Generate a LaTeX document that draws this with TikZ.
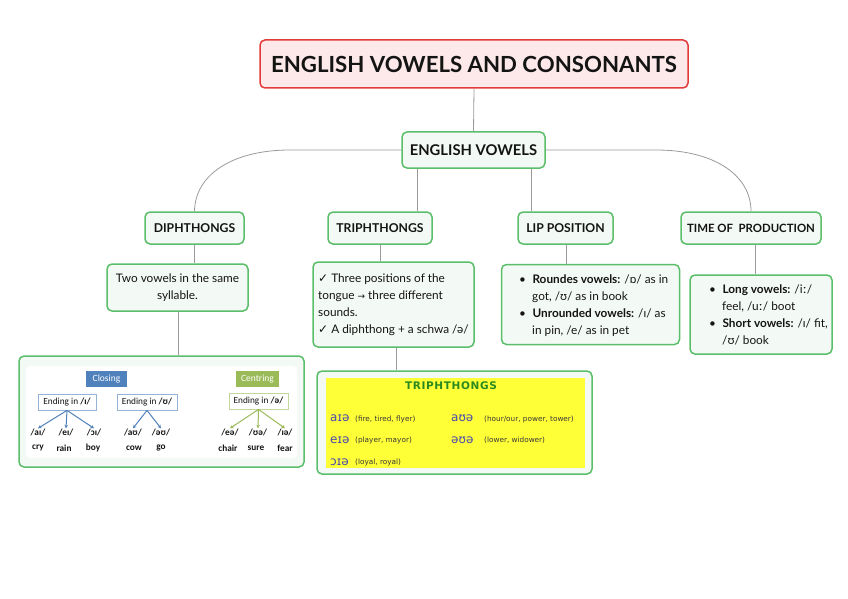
\documentclass[tikz,border=0pt]{standalone}
\usepackage{fontspec}
\setmainfont{Lato}
\newfontfamily\calf{Carlito}
\newfontfamily\dvs{DejaVu Sans}
\newfontfamily\dvsb[LetterSpace=6]{DejaVu Sans Bold}
\usetikzlibrary{arrows.meta}
\definecolor{gborder}{HTML}{5BBE6A}
\definecolor{gfill}{HTML}{F3F9F4}
\definecolor{rborder}{HTML}{E23B3B}
\definecolor{rfill}{HTML}{FDE9E9}
\definecolor{conn}{HTML}{9A9A9A}
\definecolor{cblue}{HTML}{4F81BD}
\definecolor{lblue}{HTML}{95B3D7}
\definecolor{cgreen}{HTML}{9BBB59}
\definecolor{lgreen}{HTML}{C3D69B}
\definecolor{ylw}{HTML}{FFFF38}
\definecolor{tgreen}{HTML}{2A8A1E}
\definecolor{ipablue}{HTML}{4848B0}
\definecolor{txt}{HTML}{141414}
\tikzset{
  gbox/.style={draw=gborder, fill=gfill, line width=1.5pt, rounded corners=5pt, inner sep=0pt, text=txt},
  lvl/.style={gbox, font=\bfseries\fontsize{12.2}{14}\selectfont},
  body/.style={inner sep=0pt, align=left, text=txt, font=\fontsize{11.8}{17}\selectfont},
  conline/.style={draw=conn, line width=0.8pt},
  smalllab/.style={inner sep=0pt, font=\calf\bfseries\fontsize{9.3}{10}\selectfont, text=txt},
  endbox/.style={draw, fill=white, line width=0.8pt, inner sep=0pt, minimum height=16pt, font=\calf\fontsize{9.3}{10}\selectfont, text=txt},
  barr/.style={draw=cblue, line width=1pt, -{Stealth[length=3.5pt,width=3.5pt]}},
  garr/.style={draw=cgreen, line width=1pt, -{Stealth[length=3.5pt,width=3.5pt]}},
  ipa/.style={inner sep=0pt, anchor=west, text=ipablue, font=\dvs\fontsize{12}{14}\selectfont},
  ipad/.style={inner sep=0pt, anchor=west, text=txt!85, font=\dvs\fontsize{7.3}{9}\selectfont}
}
\begin{document}
\begin{tikzpicture}[x=1pt,y=-1pt]
\useasboundingbox (0,0) rectangle (848,599);
% title
\node[draw=rborder, fill=rfill, line width=1.5pt, rounded corners=5pt, minimum width=428pt, minimum height=48pt, inner sep=0pt, font=\bfseries\fontsize{22.2}{26}\selectfont, text=txt] (title) at (474,64) {ENGLISH VOWELS AND CONSONANTS};
\node[gbox, minimum width=143pt, minimum height=36pt, font=\bfseries\fontsize{14.8}{17}\selectfont] (ev) at (473.5,150) {ENGLISH VOWELS};
\node[lvl, minimum width=99pt, minimum height=32pt] (dip) at (194.5,228) {DIPHTHONGS};
\node[lvl, minimum width=104pt, minimum height=32pt] (tri) at (380,228) {TRIPHTHONGS};
\node[lvl, minimum width=95pt, minimum height=32pt] (lip) at (565.5,228) {LIP POSITION};
\node[lvl, minimum width=140pt, minimum height=32pt, font=\bfseries\fontsize{11.4}{13}\selectfont] (tim) at (751,228) {TIME OF~~PRODUCTION};
% connectors top
\draw[conline] (title.south) -- (ev.north);
\coordinate (cx1) at (417,0);
\coordinate (cx2) at (531,0);
\draw[conline] (ev.west) -- (290,150) .. controls (232,150) and (195,175) .. (dip.north);
\draw[conline] (ev.east) -- (656,150) .. controls (714,150) and (751,175) .. (tim.north);
\draw[conline] (ev.south -| cx1) -- (tri.north -| cx1);
\draw[conline] (ev.south -| cx2) -- (lip.north -| cx2);
% level 3
\node[gbox, minimum width=141pt, minimum height=47pt, align=center, font=\fontsize{11.8}{17}\selectfont] (dd) at (177.5,287.5) {Two vowels in the same\\syllable.};
\node[gbox, minimum width=161pt, minimum height=85pt] (td) at (393.5,304.5) {};
\node[body, anchor=west] (tdt) at (318,305) {{\dvs\fontsize{12}{12}\selectfont ✓} Three positions of the\\tongue {\dvs\fontsize{9}{12}\selectfont →} three different\\sounds.\\{\dvs\fontsize{12}{12}\selectfont ✓} A diphthong + a schwa /ə/};
\node[gbox, minimum width=178pt, minimum height=80pt] (ld) at (590.5,304.5) {};
\node[body, anchor=west] (ldt) at (519,305.5) {•\hspace{6.5pt}\textbf{Roundes vowels:} /ɒ/ as in\\\hspace*{13pt}got, /ʊ/ as in book\\•\hspace{6.5pt}\textbf{Unrounded vowels:} /ɪ/ as\\\hspace*{13pt}in pin, /e/ as in pet};
\node[gbox, minimum width=142pt, minimum height=79pt] (tdd) at (761,314.5) {};
\node[body, anchor=west] (tddt) at (709,314.5) {•\hspace{6.5pt}\textbf{Long vowels:} /iː/\\\hspace*{13pt}feel, /uː/ boot\\•\hspace{6.5pt}\textbf{Short vowels:} /ɪ/ fit,\\\hspace*{13pt}/ʊ/ book};
\coordinate (cx3) at (380,0);
\coordinate (cx4) at (566,0);
\coordinate (cx5) at (755,0);
\draw[conline] (dip.south) -- (dd.north -| dip.south);
\draw[conline] (tri.south -| cx3) -- (td.north -| cx3);
\draw[conline] (lip.south -| cx4) -- (ld.north -| cx4);
\draw[conline] (tim.south -| cx5) -- (tdd.north -| cx5);
% diphthong image
\node[gbox, minimum width=285pt, minimum height=111pt] (dimg) at (161.5,411.5) {};
\node[fill=white, rounded corners=4pt, minimum width=271pt, minimum height=92pt, inner sep=0pt] (dwhite) at (161.5,412) {};
\coordinate (cx6) at (178,0);
\draw[conline] (dd.south -| cx6) -- (dimg.north -| cx6);
\node[fill=cblue, minimum width=41pt, minimum height=16pt, inner sep=0pt, text=white, font=\calf\fontsize{9.5}{10}\selectfont] (clo) at (106.5,379) {Closing};
\node[fill=cgreen, minimum width=43pt, minimum height=16pt, inner sep=0pt, text=white, font=\calf\fontsize{9.5}{10}\selectfont] (cen) at (257.5,379) {Centring};
\node[endbox, draw=lblue, minimum width=58pt] (e1) at (67,402) {Ending in \textbf{/ɪ/}};
\node[endbox, draw=lblue, minimum width=60pt] (e2) at (147,402) {Ending in \textbf{/ʊ/}};
\node[endbox, draw=lgreen, minimum width=59pt] (e3) at (258.5,401) {Ending in \textbf{/ə/}};
\node[smalllab] (a1) at (38,432) {/aɪ/};
\node[smalllab] (a2) at (66,432) {/eɪ/};
\node[smalllab] (a3) at (94,432) {/ɔɪ/};
\node[smalllab] (a4) at (133,432) {/aʊ/};
\node[smalllab] (a5) at (161,432) {/əʊ/};
\node[smalllab] (a6) at (230,432) {/eə/};
\node[smalllab] (a7) at (258,432) {/ʊə/};
\node[smalllab] (a8) at (285,432) {/ɪə/};
\node[smalllab] (w1) at (38,448) {cry};
\node[smalllab] (w2) at (64,448) {rain};
\node[smalllab] (w3) at (93,448) {boy};
\node[smalllab] (w4) at (134,448) {cow};
\node[smalllab] (w5) at (161,448) {go};
\node[smalllab] (w6) at (228,448) {chair};
\node[smalllab] (w7) at (256,448) {sure};
\node[smalllab] (w8) at (285,448) {fear};
\draw[barr] (e1.south) -- (a1.north);
\draw[barr] (e1.south) -- (a2.north);
\draw[barr] (e1.south) -- (a3.north);
\draw[barr] (e2.south) -- (a4.north);
\draw[barr] (e2.south) -- (a5.north);
\draw[garr] (e3.south) -- (a6.north);
\draw[garr] (e3.south) -- (a7.north);
\draw[garr] (e3.south) -- (a8.north);
% triphthong image
\node[gbox, minimum width=275pt, minimum height=103pt] (timg) at (454.5,422.5) {};
\node[fill=ylw, minimum width=259pt, minimum height=90pt, inner sep=0pt] (yb) at (455.5,423) {};
\coordinate (cx7) at (396,0);
\draw[conline] (td.south -| cx7) -- (timg.north -| cx7);
\node[inner sep=0pt, text=tgreen, font=\dvsb\fontsize{10.5}{12}\selectfont] (tt) at (451,385.5) {TRIPHTHONGS};
\node[ipa] (i1) at (330,418.5) {aɪə};
\node[ipad] (d1) at (355,419) {(fire, tired, flyer)};
\node[ipa] (i2) at (330,440) {eɪə};
\node[ipad] (d2) at (355,440.5) {(player, mayor)};
\node[ipa] (i3) at (330,462) {ɔɪə};
\node[ipad] (d3) at (355,462.5) {(loyal, royal)};
\node[ipa] (i4) at (451,418.5) {aʊə};
\node[ipad] (d4) at (484,419) {(hour/our, power, tower)};
\node[ipa] (i5) at (451,440) {əʊə};
\node[ipad] (d5) at (484,440.5) {(lower, widower)};
\end{tikzpicture}
\end{document}
